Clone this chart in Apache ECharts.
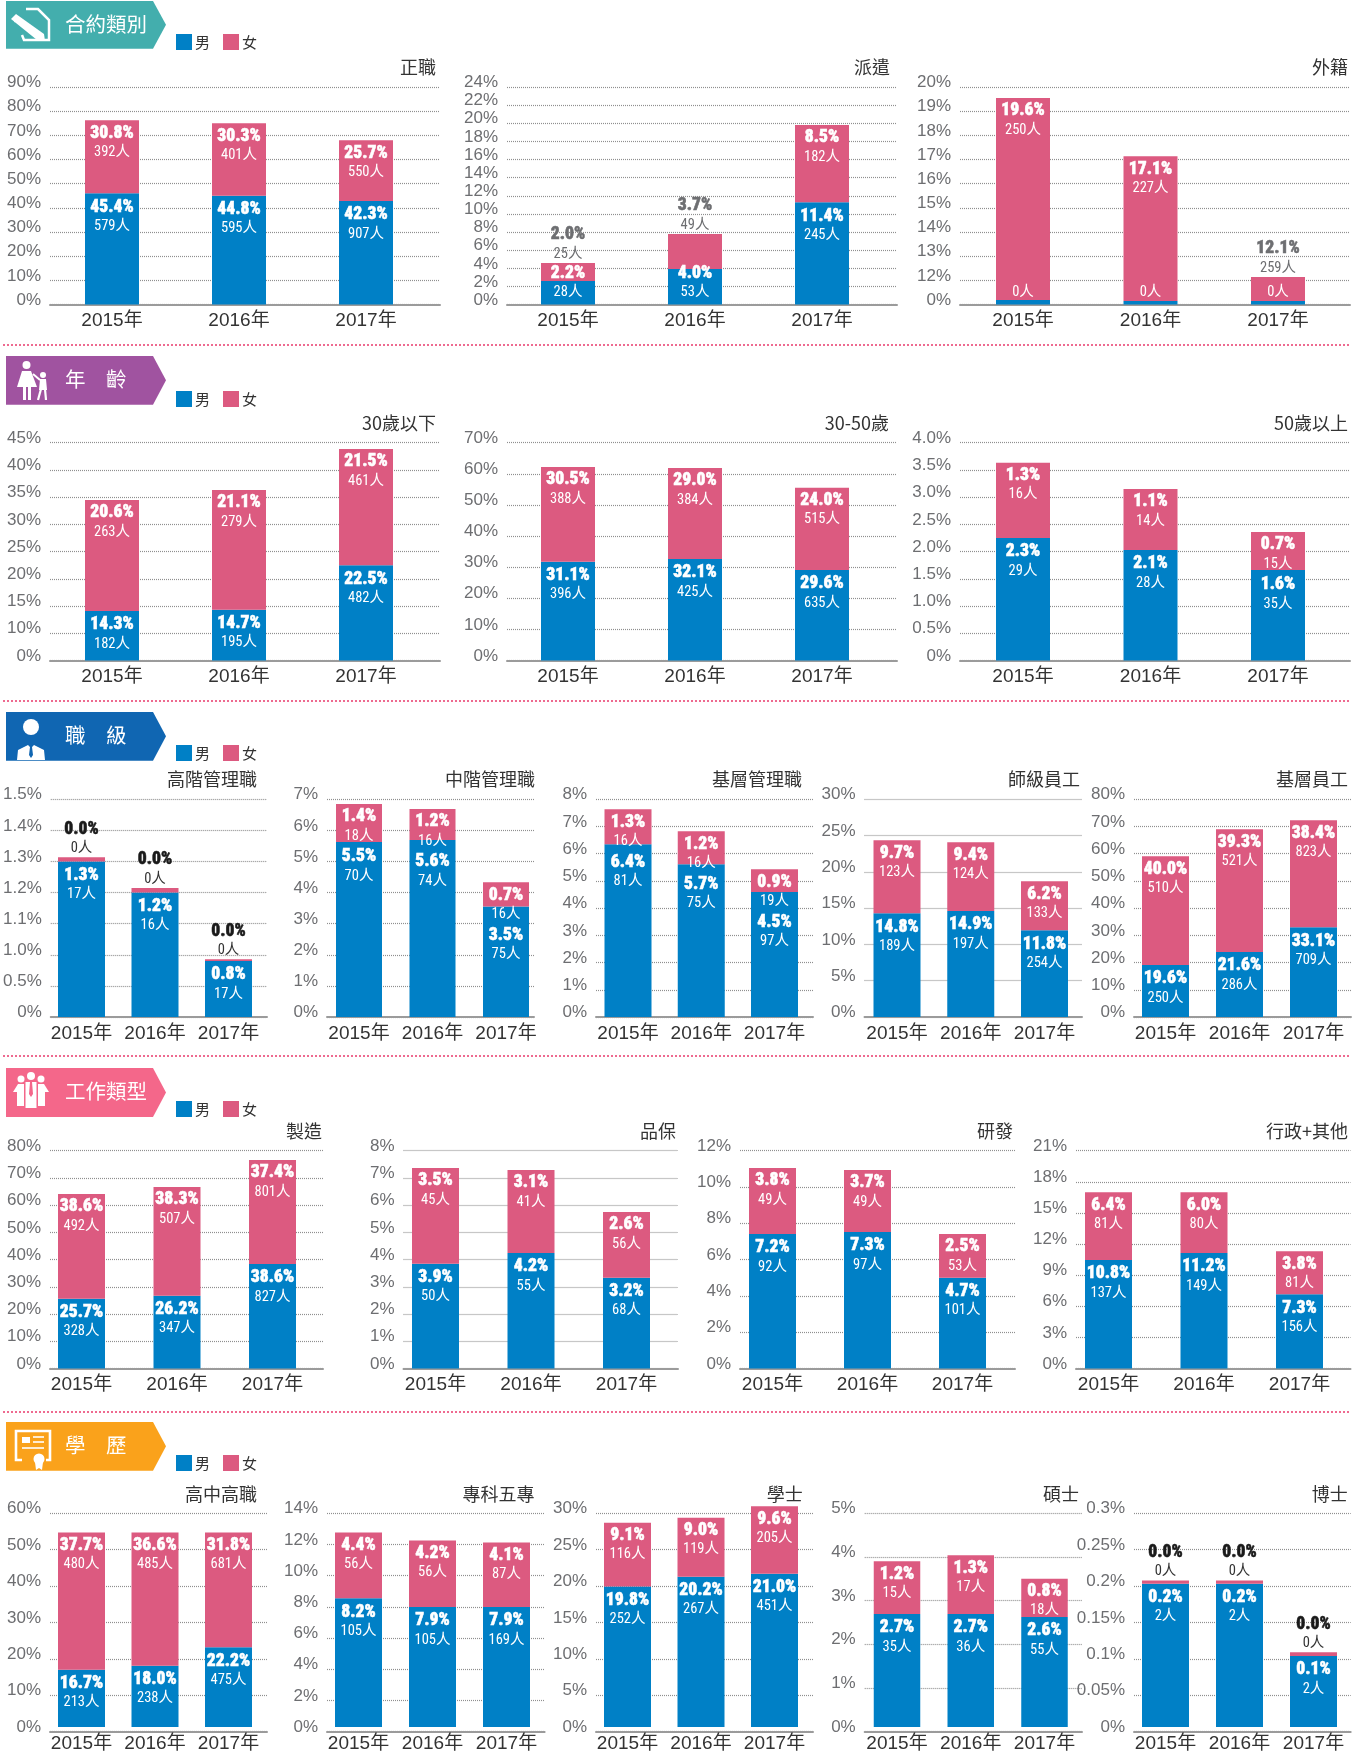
<!DOCTYPE html>
<html><head><meta charset="utf-8">
<style>html,body{margin:0;padding:0;background:#fff}#c{width:1366px;height:1753px}</style>
<script src="https://cdn.jsdelivr.net/npm/echarts@6/dist/echarts.min.js"></script>
</head><body><div id="c"></div>
<script>
// ---------- data ----------
const years = ['2015年','2016年','2017年'];
const sectionTitles = ['合約類別','年　齡','職　級','工作類型','學　歷'];
const panelTitles = ['正職','派遣','外籍','30歲以下','30-50歲','50歲以上','高階管理職','中階管理職','基層管理職','師級員工','基層員工','製造','品保','研發','行政+其他','高中高職','專科五專','學士','碩士','博士'];
const tickLabels = [
 ['0%','10%','20%','30%','40%','50%','60%','70%','80%','90%'],
 ['0%','2%','4%','6%','8%','10%','12%','14%','16%','18%','20%','22%','24%'],
 ['0%','12%','13%','14%','15%','16%','17%','18%','19%','20%'],
 ['0%','10%','15%','20%','25%','30%','35%','40%','45%'],
 ['0%','10%','20%','30%','40%','50%','60%','70%'],
 ['0%','0.5%','1.0%','1.5%','2.0%','2.5%','3.0%','3.5%','4.0%'],
 ['0%','0.5%','1.0%','1.1%','1.2%','1.3%','1.4%','1.5%'],
 ['0%','1%','2%','3%','4%','5%','6%','7%'],
 ['0%','1%','2%','3%','4%','5%','6%','7%','8%'],
 ['0%','5%','10%','15%','20%','25%','30%'],
 ['0%','10%','20%','30%','40%','50%','60%','70%','80%'],
 ['0%','10%','20%','30%','40%','50%','60%','70%','80%'],
 ['0%','1%','2%','3%','4%','5%','6%','7%','8%'],
 ['0%','2%','4%','6%','8%','10%','12%'],
 ['0%','3%','6%','9%','12%','15%','18%','21%'],
 ['0%','10%','20%','30%','40%','50%','60%'],
 ['0%','2%','4%','6%','8%','10%','12%','14%'],
 ['0%','5%','10%','15%','20%','25%','30%'],
 ['0%','1%','2%','3%','4%','5%'],
 ['0%','0.05%','0.1%','0.15%','0.2%','0.25%','0.3%']
];
// top of the blue segment and top of the whole bar, as read against each panel's axis
const maleTop = [
 [46.1,45.0,42.8],[2.6,3.93,11.3],[2.3,1.8,1.8],[14.07,14.3,22.5],[31.7,32.65,29.1],[2.25,2.03,1.66],[1.3,1.2,0.9],[5.63,5.69,3.55],[6.35,5.61,4.59],[14.3,14.6,11.97],
 [19.1,23.85,33.0],[25.6,26.7,38.4],[3.85,4.24,3.33],[7.41,7.52,5.0],[10.45,11.13,7.17],[16.1,17.2,22.4],[8.44,7.86,7.86],[19.72,21.1,21.5],[2.645,2.645,2.576],[0.201,0.201,0.0995]
];
const totalTop = [
 [76.2,75.0,68.0],[4.6,7.8,19.8],[19.54,17.14,12.14],[34.46,36.3,43.85],[62.2,61.9,55.5],[3.63,3.15,2.36],[1.314,1.215,0.93],[6.85,6.69,4.33],[7.63,6.83,5.43],[24.36,24.08,18.7],
 [59.1,69.0,72.3],[64.1,66.7,76.6],[7.36,7.29,5.75],[11.05,10.94,7.41],[17.0,17.0,11.3],[54.6,54.6,54.6],[12.74,12.22,12.09],[28.67,29.36,31.0],[3.88,4.02,3.47],[0.2055,0.2055,0.105]
];
// printed labels
const malePct = [
 [45.4,44.8,42.3],[2.2,4.0,11.4],[null,null,null],[14.3,14.7,22.5],[31.1,32.1,29.6],[2.3,2.1,1.6],[1.3,1.2,0.8],[5.5,5.6,3.5],[6.4,5.7,4.5],[14.8,14.9,11.8],
 [19.6,21.6,33.1],[25.7,26.2,38.6],[3.9,4.2,3.2],[7.2,7.3,4.7],[10.8,11.2,7.3],[16.7,18.0,22.2],[8.2,7.9,7.9],[19.8,20.2,21.0],[2.7,2.7,2.6],[0.2,0.2,0.1]
];
const femalePct = [
 [30.8,30.3,25.7],[2.0,3.7,8.5],[19.6,17.1,12.1],[20.6,21.1,21.5],[30.5,29.0,24.0],[1.3,1.1,0.7],[0.0,0.0,0.0],[1.4,1.2,0.7],[1.3,1.2,0.9],[9.7,9.4,6.2],
 [40.0,39.3,38.4],[38.6,38.3,37.4],[3.5,3.1,2.6],[3.8,3.7,2.5],[6.4,6.0,3.8],[37.7,36.6,31.8],[4.4,4.2,4.1],[9.1,9.0,9.6],[1.2,1.3,0.8],[0.0,0.0,0.0]
];
const maleCount = [
 [579,595,907],[28,53,245],[0,0,0],[182,195,482],[396,425,635],[29,28,35],[17,16,17],[70,74,75],[81,75,97],[189,197,254],
 [250,286,709],[328,347,827],[50,55,68],[92,97,101],[137,149,156],[213,238,475],[105,105,169],[252,267,451],[35,36,55],[2,2,2]
];
const femaleCount = [
 [392,401,550],[25,49,182],[250,227,259],[263,279,461],[388,384,515],[16,14,15],[0,0,0],[18,16,16],[16,16,19],[123,124,133],
 [510,521,823],[492,507,801],[45,41,56],[49,49,53],[81,80,81],[480,485,681],[56,56,87],[116,119,205],[15,17,18],[0,0,0]
];

// ---------- layout ----------
// [gridLeft, gridRight, firstBarCentre, lastBarCentre, top, base, barWidth, titleRight]
const boxes = [
 [50,440,112,366,87,304.6,54,436],[507,897,568,822,87,304.6,54,890],[960,1350,1023,1278,87,304.6,54,1348],
 [50,440,112,366,442.7,660.5,54,436],[507,897,568,822,442.7,660.5,54,889],[960,1350,1023,1278,442.7,660.5,54,1348],
 [50,267,81.5,228.5,799.3,1017,47,257],[327,534,359,506,799.3,1017,46,535],[596,813,628,774.5,799.3,1017,47,802],[864.5,1082,897,1044.5,799.3,1017,47,1080],[1134,1351,1165.5,1313.5,799.3,1017,47,1348],
 [50,323,81.5,272.5,1150.7,1368.5,47,322],[403.5,678,435.5,626.5,1150.7,1368.5,47,676],[740,1015,772.5,962.5,1150.7,1368.5,47,1013],[1076,1350.5,1108.5,1299.5,1150.7,1368.5,47,1348],
 [50,267,81.5,228.5,1513.3,1731.5,47,257],[327,544.6,358.5,506.5,1513.3,1731.5,47,534.6],[596,813,627.5,774.5,1513.3,1731.5,47,802.7],[864.7,1082,897,1044.5,1513.3,1731.5,46.5,1079],[1134,1350.7,1165.5,1313.5,1513.3,1731.5,47,1347.7]
];
const ribbons = [[1,48.7,'#43AEAD'],[356,404.7,'#A053A0'],[712,760.7,'#1066B2'],[1068,1117,'#F4678A'],[1422,1470.7,'#FAA21B']];
const legendTops = [34,391,745,1101,1455];
const separators = [345,701,1056,1412];
const titleCentres = [67,67,67,422.7,422.7,422.7,779,779,779,779,779,1130.7,1130.7,1130.7,1130.7,1494,1494,1494,1494,1494];
const aboveKeys = new Set(['1:0','1:1','2:2','6:0','6:1','6:2','19:0','19:1','19:2']);

const BLUE='#0080C6', PINK='#DC5A80';
const SANS="'Liberation Sans','Noto Sans CJK TC',sans-serif";
const NARROW="'Roboto Condensed','Noto Sans CJK TC',sans-serif";
const CJK="'Noto Sans CJK TC','Liberation Sans',sans-serif";

function richFor(pctColor,countColor){
  return {
    p:{fontFamily:NARROW,fontWeight:900,fontSize:17.5,lineHeight:20,color:pctColor,textBorderColor:pctColor,textBorderWidth:0.5},
    c:{fontFamily:NARROW,fontSize:14.5,lineHeight:18,color:countColor}
  };
}
function labelText(pct,n){
  const count='{c|'+n+'人}';
  return pct===null?count:'{p|'+pct.toFixed(1)+'%}\n'+count;
}

const grid=[],xAxis=[],yAxis=[],series=[],title=[],legend=[];
boxes.forEach((b,i)=>{
  const [gl,gr,c1,c3,top,base,bw,tr]=b;
  const ticks=tickLabels[i].map(parseFloat);
  const n=ticks.length-1;
  const stepPx=(base-top)/n;
  const toAxis=v=>{
    let j=0;
    while(j<n-1&&v>ticks[j+1])j++;
    return j+(v-ticks[j])/(ticks[j+1]-ticks[j]);
  };
  const sp=(c3-c1)/2, mid=(c1+c3)/2;
  // grid that carries the rules and the y axis
  grid.push({left:gl,width:gr-gl,top:top,height:base-top});
  xAxis.push({type:'category',gridIndex:2*i,data:years,axisLabel:{show:false},axisTick:{show:false},
    axisLine:{show:true,lineStyle:{color:'#9b9b9b',width:2}}});
  yAxis.push({type:'value',gridIndex:2*i,min:0,max:n,interval:1,
    axisLine:{show:false},axisTick:{show:false},
    splitLine:{show:true,lineStyle:{color:'#8f8f8f',width:1.2,type:[1,1]}},
    axisLabel:{margin:9,fontFamily:SANS,fontSize:17,color:'#6d6e71',verticalAlign:'bottom',lineHeight:9,
      formatter:v=>tickLabels[i][Math.round(v)]||''}});
  // grid that carries the bars and the year labels
  grid.push({left:mid-1.5*sp,width:3*sp,top:top,height:base-top});
  xAxis.push({type:'category',gridIndex:2*i+1,data:years,axisLine:{show:false},axisTick:{show:false},
    axisLabel:{interval:0,margin:7,fontFamily:SANS,fontSize:19,color:'#333'}});
  yAxis.push({type:'value',gridIndex:2*i+1,min:0,max:n,interval:1,show:false,splitLine:{show:false}});

  const maleData=[],femaleData=[];
  years.forEach((y,k)=>{
    const mA=toAxis(maleTop[i][k]), tA=toAxis(totalTop[i][k]);
    const mPx=mA*stepPx, fPx=(tA-mA)*stepPx;
    const above=aboveKeys.has(i+':'+k);
    const zero=femalePct[i][k]===0;
    femaleData.push({value:tA-mA,label:above?{
        show:true,position:'top',distance:0,
        formatter:labelText(femalePct[i][k],femaleCount[i][k]),
        rich:richFor(zero?'#1a1a1a':'#6d6e71',zero?'#333':'#6d6e71')
      }:{
        show:true,position:'insideTop',distance:3,
        formatter:labelText(femalePct[i][k],femaleCount[i][k]),
        rich:richFor('#fff','#fff')
      }});
    const overlap=above?0:Math.max(0,39-fPx);
    const bottomAnchor=mPx<40;
    maleData.push({value:mA,label:{
        show:true,position:bottomAnchor?'insideBottom':'insideTop',
        distance:bottomAnchor?3:4+overlap,
        formatter:labelText(malePct[i][k],maleCount[i][k]),
        rich:richFor('#fff','#fff')
      }});
  });
  const common={type:'bar',stack:'s'+i,barWidth:bw,xAxisIndex:2*i+1,yAxisIndex:2*i+1,clip:false,silent:true};
  series.push(Object.assign({name:'男',data:maleData,itemStyle:{color:BLUE}},common));
  series.push(Object.assign({name:'女',data:femaleData,itemStyle:{color:PINK}},common));

  title.push({text:panelTitles[i],right:1366-tr,top:titleCentres[i]-11,
    textStyle:{fontFamily:CJK,fontSize:18,fontWeight:'normal',color:'#333',lineHeight:22},padding:0});
});

legendTops.forEach(t=>legend.push({data:['男','女'],left:176,top:t,icon:'rect',itemWidth:16,itemHeight:16,itemGap:13,
  selectedMode:false,padding:0,textStyle:{fontFamily:CJK,fontSize:15,color:'#333',padding:[0,0,0,-2]}}));

// ---------- decoration ----------
const W='#fff';
const graphicEls=[];
function icon(idx,c,y0){
  const els=[];
  const poly=(pts,fill)=>els.push({type:'polygon',shape:{points:pts},style:{fill:fill||W},silent:true});
  const circ=(x,y,r)=>els.push({type:'circle',shape:{cx:x,cy:y,r},style:{fill:W},silent:true});
  const line=(pts,w)=>els.push({type:'polyline',shape:{points:pts},style:{stroke:W,lineWidth:w||2.5,fill:null},silent:true});
  const rect=(x,y,w,h,fill)=>els.push({type:'rect',shape:{x,y,width:w,height:h},style:{fill:fill||W},silent:true});
  if(idx===0){
    line([[26,y0+8],[38,y0+8],[49,y0+19],[49,y0+39],[24,y0+39],[22,y0+34]],2.5);
    poly([[11,y0+18],[16,y0+13],[44,y0+33],[45,y0+40],[37,y0+39]]);
    line([[14.5,y0+21],[19,y0+16]],1.2);
  }else if(idx===1){
    circ(26.5,y0+9,4);
    poly([[22,y0+15],[31,y0+15],[37,y0+31],[17,y0+31]]);
    rect(23,y0+31,3,13);rect(28,y0+31,3,13);
    line([[33,y0+18],[40,y0+24]],2);
    circ(43,y0+19,3);
    poly([[40,y0+23],[46,y0+23],[47,y0+34],[39,y0+34]]);
    line([[41,y0+33],[38,y0+44]],2.2);line([[45,y0+33],[46,y0+44]],2.2);
  }else if(idx===2){
    circ(31,y0+15,8);
    poly([[17,y0+48],[18,y0+38],[28,y0+33],[31,y0+36],[34,y0+33],[44,y0+38],[45,y0+48]]);
    poly([[30,y0+35],[32,y0+35],[33,y0+43],[31,y0+46],[29,y0+43]],c);
  }else if(idx===3){
    circ(21,y0+11,3.5);circ(41,y0+11,3.5);circ(31,y0+8,4);
    poly([[13,y0+24],[18,y0+16],[24,y0+16],[24,y0+38],[17,y0+38],[17,y0+24]]);
    poly([[49,y0+24],[44,y0+16],[38,y0+16],[38,y0+38],[45,y0+38],[45,y0+24]]);
    rect(25.5,y0+14,11,26);
    poly([[30,y0+14],[32,y0+14],[33,y0+26],[31,y0+29],[29,y0+26]],c);
  }else{
    line([[22,y0+38],[16,y0+38],[16,y0+9],[50,y0+9],[50,y0+38],[46,y0+38]],2.6);
    rect(22,y0+15,8,6);
    line([[33,y0+15],[44,y0+15]],1.6);line([[33,y0+20],[44,y0+20]],1.6);line([[22,y0+26],[44,y0+26]],1.6);
    circ(39,y0+37,5.5);
    poly([[35,y0+40],[39,y0+42],[43,y0+40],[42,y0+48],[39,y0+46],[36,y0+48]]);
  }
  return els;
}
ribbons.forEach((r,idx)=>{
  const [y0,y1,c]=r;
  graphicEls.push({type:'polygon',shape:{points:[[6,y0],[153,y0],[166,(y0+y1)/2],[153,y1],[6,y1]]},style:{fill:c},silent:true});
  graphicEls.push(...icon(idx,c,y0));
  graphicEls.push({type:'text',x:65,y:(y0+y1)/2-1,silent:true,
    style:{text:sectionTitles[idx],fill:W,font:'20.5px '+CJK,textAlign:'left',textVerticalAlign:'middle'}});
});
separators.forEach(y=>graphicEls.push({type:'line',shape:{x1:3,y1:y,x2:1350,y2:y},silent:true,
  style:{stroke:'#EE6A90',lineWidth:2,lineDash:[2,2]}}));

const chart=echarts.init(document.getElementById('c'),null,{renderer:'canvas',width:1366,height:1753});
chart.setOption({animation:false,backgroundColor:'#fff',grid,xAxis,yAxis,series,title,legend,
  graphic:{elements:graphicEls}});
</script></body></html>
